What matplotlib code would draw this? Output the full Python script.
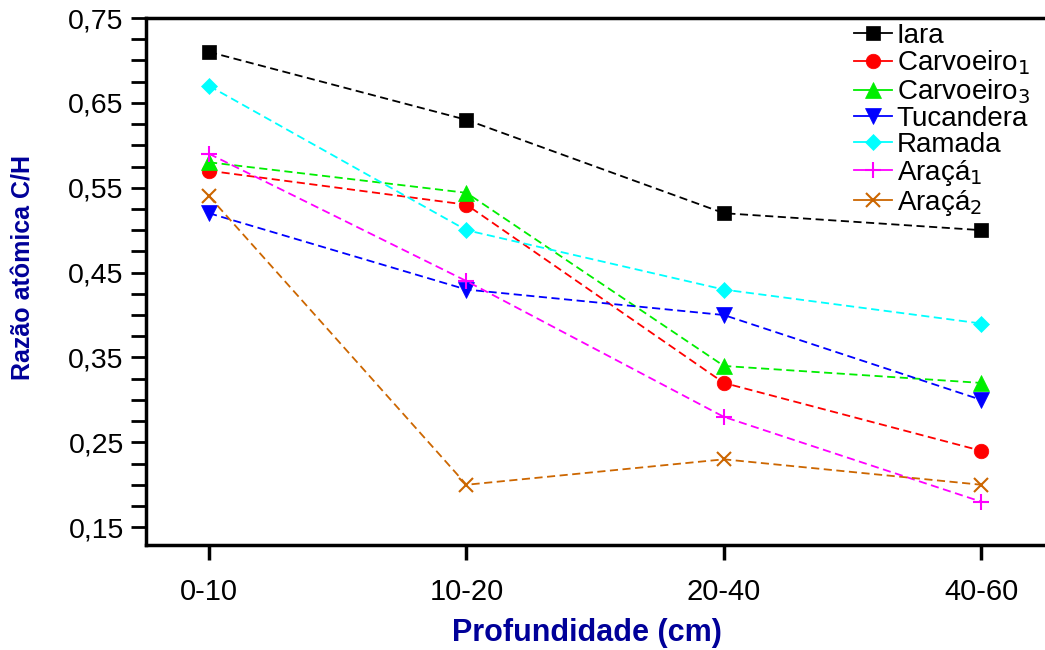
import matplotlib
matplotlib.use("Agg")
import matplotlib.pyplot as plt
from matplotlib.ticker import MultipleLocator, FixedLocator, FuncFormatter

plt.rcParams['font.family'] = ['Liberation Sans', 'DejaVu Sans']

depths = ["0-10", "10-20", "20-40", "40-60"]

iara = [0.71, 0.63, 0.52, 0.50]
carvoeiro1 = [0.57, 0.53, 0.32, 0.24]
carvoeiro3 = [0.58, 0.544, 0.34, 0.32]
tucandera = [0.52, 0.43, 0.40, 0.30]
ramada = [0.67, 0.50, 0.43, 0.39]
araca1 = [0.59, 0.44, 0.28, 0.18]
araca2 = [0.54, 0.20, 0.23, 0.20]

series = [
    ("Iara", iara, "#000000", "s", 9.5),
    ("Carvoeiro$_1$", carvoeiro1, "#ff0000", "o", 10.5),
    ("Carvoeiro$_3$", carvoeiro3, "#00ee00", "^", 11.5),
    ("Tucandera", tucandera, "#0000ff", "v", 11.5),
    ("Ramada", ramada, "#00ffff", "D", 8.5),
    ("Araçá$_1$", araca1, "#ff00ff", "+", 12),
    ("Araçá$_2$", araca2, "#cc6600", "x", 10),
]

fig = plt.figure(figsize=(10.45, 6.5), dpi=100)
ax = fig.add_axes([0.1397, 0.1615, 0.8585, 0.8108])

x = list(range(len(depths)))
for name, vals, color, marker, ms in series:
    ax.plot(x, vals, linestyle=(0, (4.5, 2.5)), linewidth=1.3, color=color,
            marker=marker, markersize=ms, markeredgewidth=1.5 if marker in "+x" else 0.5,
            markeredgecolor=color, markerfacecolor=color, label=name)

ax.set_xlim(-0.245, 3.24)
ax.set_ylim(0.129, 0.75)
ax.xaxis.set_major_locator(FixedLocator(x))
ax.set_xticklabels(depths)
ax.yaxis.set_major_locator(FixedLocator([0.15, 0.25, 0.35, 0.45, 0.55, 0.65, 0.75]))
ax.yaxis.set_minor_locator(MultipleLocator(0.025))
ax.yaxis.set_major_formatter(FuncFormatter(lambda v, p: f"{v:.2f}".replace(".", ",")))

for s in ["left", "bottom", "top"]:
    ax.spines[s].set_linewidth(2.5)
ax.spines["right"].set_visible(False)

ax.tick_params(axis="y", which="major", direction="out", length=11, width=2, labelsize=20.5, pad=5)
ax.tick_params(axis="y", which="minor", direction="out", length=11, width=2)
ax.tick_params(axis="x", which="major", direction="out", length=11, width=2.5, labelsize=21, pad=13)

ax.set_xlabel("Profundidade (cm)", fontsize=22, fontweight="bold", color="#000099", va="center")
ax.xaxis.set_label_coords(0.4916, -0.167)
ax.set_ylabel("Razão atômica C/H", fontsize=18, fontweight="bold", color="#000099", va="center")
ax.yaxis.set_label_coords(-0.136, 0.526)

leg = ax.legend(loc="upper right", bbox_to_anchor=(1.004, 1.023), frameon=False, fontsize=20,
                handlelength=1.4, handletextpad=0.15, labelspacing=0.0, borderpad=0.1)
for h in leg.get_lines():
    h.set_linestyle("-")

fig.savefig("out.png", dpi=100)
